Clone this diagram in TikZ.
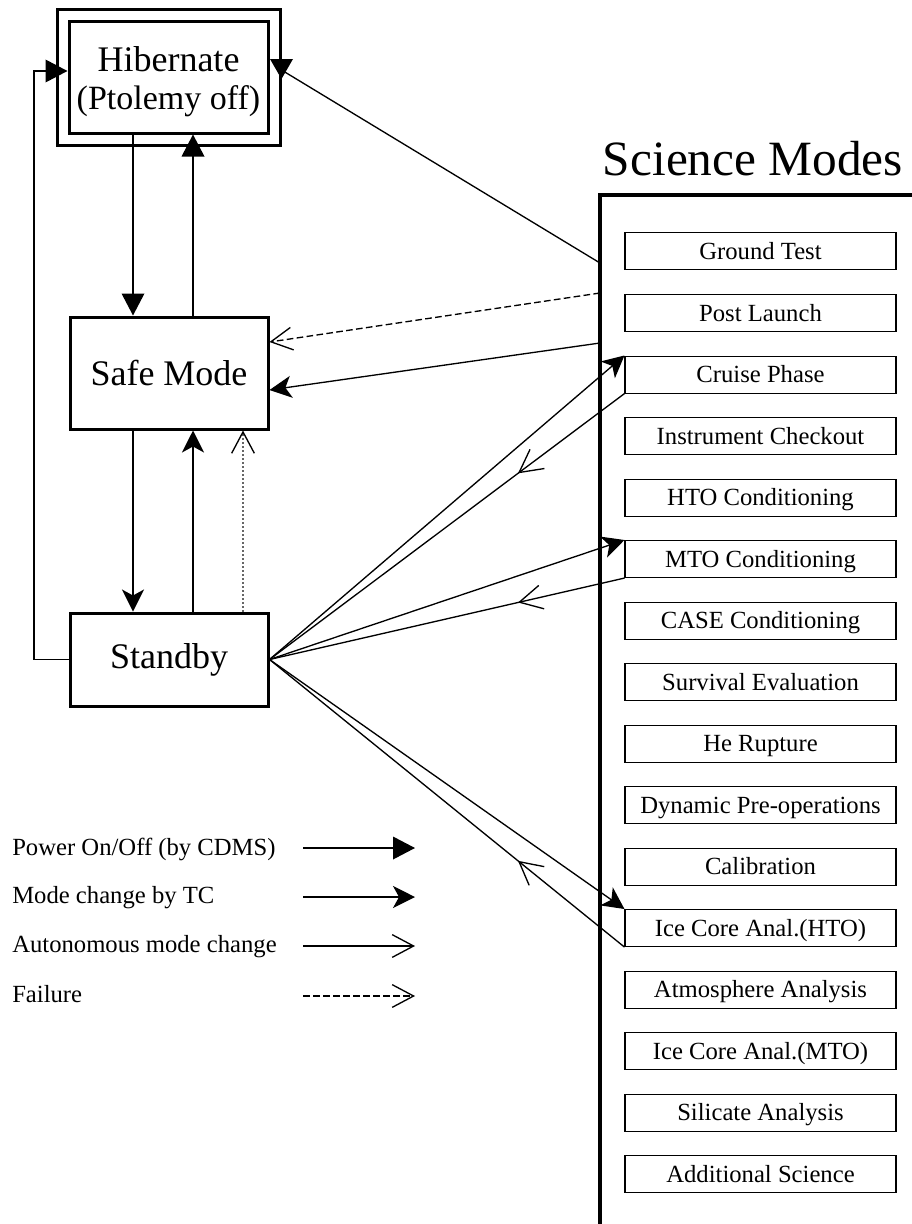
\documentclass[tikz,border=0pt]{standalone}
\usepackage{fontspec}
\setmainfont{Liberation Serif}
\usetikzlibrary{arrows.meta,decorations.markings}
\begin{document}
\begin{tikzpicture}[x=0.75pt,y=-0.75pt,
  bigbox/.style={draw,line width=2.25pt,inner sep=0pt,align=center,font=\fontsize{27}{31}\selectfont},
  modebox/.style={draw,line width=0.8pt,minimum width=203.25pt,minimum height=27.75pt,inner sep=0pt,text height=12.4pt,text depth=0pt,font=\fontsize{18.5}{20}\selectfont},
  legtext/.style={anchor=base west,inner sep=0pt,font=\fontsize{18.5}{20}\selectfont},
  conn/.style={line width=1pt},
  power/.style={conn,-{Triangle[length=16.5pt,width=17pt]}},
  tcarr/.style={conn,-{Stealth[length=16.5pt,width=16.5pt,inset=4.5pt]}},
  autoarr/.style={conn,-{Straight Barb[length=16pt,width=17pt,line width=1pt,color=black]}},
  failarr/.style={autoarr,dash pattern=on 5pt off 2.5pt},
  midauto/.style={conn,postaction={decorate},decoration={markings,
     mark=at position 0.3 with {\arrow{Straight Barb[length=17pt,width=18pt,line width=1pt]}}}}
]
\useasboundingbox (0,0) rectangle (911,1224);

% Hibernate
\node[bigbox,minimum width=167.25pt,minimum height=102pt] (hibo) at (168.5,77) {};
\node[bigbox,minimum width=149.25pt,minimum height=84pt] (hib) at (168.5,77) {};
\node[font=\fontsize{27}{31}\selectfont,inner sep=0pt] (hibt1) at (168.5,59) {Hibernate};
\node[font=\fontsize{25.5}{29}\selectfont,inner sep=0pt] (hibt2) at (168.5,101) {(Ptolemy off)};

% Safe Mode, Standby
\node[bigbox,minimum width=148.5pt,minimum height=84pt] (safe) at (169,373) {Safe Mode};
\node[bigbox,minimum width=148.5pt,minimum height=69.75pt] (stb) at (169,659.5) {Standby};

% Science modes
\node[anchor=base,inner sep=0pt,font=\fontsize{37}{40}\selectfont] (scititle) at (753,175) {Science Modes};
\coordinate (scbl) at (600,1240);
\coordinate (sctl) at (600,195);
\coordinate (sctr) at (930,195);
\draw[line width=3pt] (scbl) -- (sctl) -- (sctr);

\foreach \i/\t/\txt in {1/232/Ground Test,2/294/Post Launch,3/355.5/Cruise Phase,
  4/417/Instrument Checkout,5/478.5/HTO Conditioning,6/540/MTO Conditioning,
  7/601.5/CASE Conditioning,8/663/Survival Evaluation,9/724.5/He Rupture,
  10/786/Dynamic Pre-operations,11/847.5/Calibration,12/909/Ice Core Anal.(HTO),
  13/970.5/Atmosphere Analysis,14/1032/Ice Core Anal.(MTO),15/1093.5/Silicate Analysis,
  16/1155/Additional Science}
  \node[modebox,anchor=north] (m\i) at (760.5,\t) {\txt};

% vertical connection coordinates
\coordinate (xa) at (133,0);
\coordinate (xb) at (193,0);
\coordinate (xc) at (243,0);
\coordinate (lx) at (34,71);

\draw[power] (hib.south -| xa) -- (safe.north -| xa);
\draw[power] (safe.north -| xb) -- (hib.south -| xb);
\draw[tcarr] (safe.south -| xa) -- (stb.north -| xa);
\draw[tcarr] (stb.north -| xb) -- (safe.south -| xb);
\draw[autoarr,draw=black!60,dotted] (stb.north -| xc) -- (safe.south -| xc);
\draw[power] (stb.west) -| (lx) -- (lx -| hib.west);

% from science box
\coordinate (sc1) at (600,263);
\coordinate (sc2) at (600,293);
\coordinate (sc3) at (600,343);
\draw[conn] (sc1) -- ([yshift=5.25pt]hibo.east);
\fill (270,59) -- (293,59) -- (281.5,79) -- cycle;
\draw[failarr] (sc2) -- ([yshift=23.25pt]safe.east);
\draw[tcarr] (sc3) -- ([yshift=-12.75pt]safe.east);

% standby <-> science modes
\draw[tcarr] (stb.east) -- (m3.north west);
\draw[midauto] (m3.south west) -- (stb.east);
\draw[tcarr] (stb.east) -- (m6.north west);
\draw[midauto] (m6.south west) -- (stb.east);
\draw[tcarr] (stb.east) -- (m12.north west);
\draw[midauto] (m12.south west) -- (stb.east);

% legend
\node[legtext] (l1) at (12,855) {Power On/Off (by CDMS)};
\node[legtext] (l2) at (12,903) {Mode change by TC};
\node[legtext] (l3) at (12,952) {Autonomous mode change};
\node[legtext] (l4) at (12,1002) {Failure};
\coordinate (a1) at (303,848); \coordinate (b1) at (415,848);
\coordinate (a2) at (303,897); \coordinate (b2) at (415,897);
\coordinate (a3) at (303,946); \coordinate (b3) at (415,946);
\coordinate (a4) at (303,996); \coordinate (b4) at (415,996);
\draw[power] (a1) -- (b1);
\draw[tcarr] (a2) -- (b2);
\draw[autoarr] (a3) -- (b3);
\draw[failarr] (a4) -- (b4);
\end{tikzpicture}
\end{document}
